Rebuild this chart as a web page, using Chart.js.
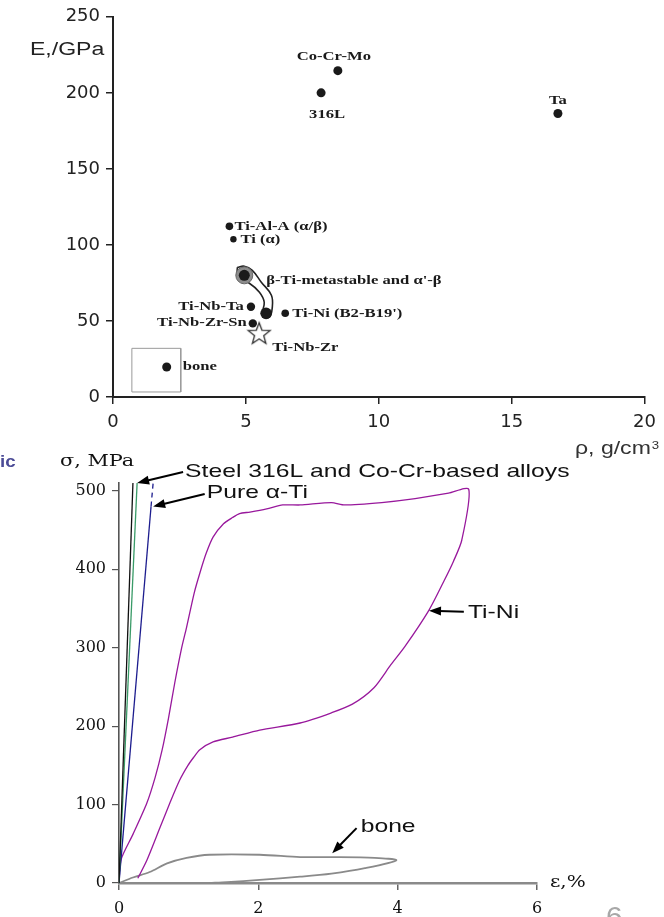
<!DOCTYPE html>
<html>
<head>
<meta charset="utf-8">
<script src="https://cdn.jsdelivr.net/npm/chart.js@4/dist/chart.umd.min.js"></script>
<style>
  html, body { margin: 0; padding: 0; background: #fff; width: 664px; height: 917px; overflow: hidden; }
  #wrap { position: relative; width: 664px; height: 917px; }
  #topChart { position: absolute; left: 0; top: 0; }
  #botChart { position: absolute; left: 0; top: 440px; }
</style>
</head>
<body>
<div id="wrap">
  <canvas id="topChart" width="664" height="462"></canvas>
  <canvas id="botChart" width="664" height="477"></canvas>
</div>
<script>
/* ---------- top chart: Young's modulus vs density ---------- */
var densityTicks = [0, 5, 10, 15, 20];
var modulusTicks = [0, 50, 100, 150, 200, 250];

var alloyNames   = ['Co-Cr-Mo', '316L', 'Ta', 'Ti-Al-A (α/β)', 'Ti (α)', 'β-Ti-metastable and α\'-β',
                    'Ti-Nb-Ta', 'Ti-Nb-Zr-Sn', '', 'Ti-Ni (B2-B19\')', 'bone'];
var alloyDensity = [8.46, 7.83, 16.74, 4.38, 4.53, 4.94, 5.19, 5.26, 5.76, 6.48, 2.02];
var alloyModulus = [214.6, 200, 186.4, 112.2, 103.7, 80, 59.3, 48.4, 55, 55.1, 19.7];

var starNames   = ['Ti-Nb-Zr'];
var starDensity = [5.5];
var starModulus = [42];

// outline around the metastable beta-Ti group
var loopDensity = [4.68, 4.94, 5.24, 5.58, 5.96, 5.99, 5.88, 5.62, 5.69, 5.51, 5.13, 4.83, 4.68, 4.68];
var loopModulus = [85.3, 86, 83.3, 75.5, 66.9, 58.4, 52.5, 53.8, 62.3, 68.9, 74.8, 76.8, 81.4, 85.3];

// box around bone
var boneBoxDensity = [0.71, 2.55, 2.55, 0.71, 0.71];
var boneBoxModulus = [32, 32, 3.3, 3.3, 32];

/* ---------- bottom chart: stress-strain ---------- */
var strainTicks = [0, 2, 4, 6];
var stressTicks = [0, 100, 200, 300, 400, 500];

var steelStrain = [0, 0.2];
var steelStress = [0, 510];
var coCrStrain  = [0, 0.26];
var coCrStress  = [0, 510];
var tiStrain    = [0, 0.46];
var tiStress    = [0, 480];
var tiEndStrain = [0.46, 0.49];
var tiEndStress = [480, 510];

var tiNiStrain = [0, 0.03, 0.2, 0.4, 0.52, 0.62, 0.71, 0.8, 0.9, 0.97, 1.08, 1.16, 1.25, 1.35, 1.5, 1.63, 1.73,
                  1.88, 2.12, 2.35, 2.6, 3.05, 3.24, 3.77, 4.25, 4.73, 5.02,
                  4.92, 4.8, 4.67, 4.45, 4.1, 3.9, 3.66, 3.35, 3.05, 2.6, 2.02, 1.63, 1.35, 1.16, 1.07, 0.99,
                  0.87, 0.73, 0.59, 0.4, 0.27];
var tiNiStress = [0, 30, 62, 102, 135, 170, 210, 255, 300, 326, 370, 395, 420, 441, 458, 466, 471,
                  473, 477, 482, 482, 485, 482, 485, 490, 497, 502,
                  437, 410, 386, 348, 301, 278, 249, 228, 217, 204, 195, 186, 180, 170, 160, 150,
                  131, 102, 71, 29, 6];

var boneStrain = [0, 0.2, 0.44, 0.69, 0.97, 1.3, 2.02, 2.6, 3.05, 3.67, 3.98,
                  3.53, 3.05, 2.6, 2.02, 1.55, 1.3];
var boneStress = [0, 7, 14, 25, 32, 36, 36, 33, 33, 32, 29,
                  19, 12, 8, 4, 1, 0];

/* ---------- helpers ---------- */
function zip(xs, ys) {
  return xs.map(function (x, i) { return { x: x, y: ys[i] }; });
}

// the scan is stretched sideways, so text gets a horizontal scale
function drawText(ctx, text, x, y, opts) {
  ctx.save();
  ctx.font = opts.font;
  ctx.fillStyle = opts.color || '#111';
  ctx.textBaseline = opts.baseline || 'alphabetic';
  ctx.textAlign = 'left';
  var sx = opts.sx || 1;
  var w = ctx.measureText(text).width * sx;
  var left = opts.align === 'right' ? x - w : (opts.align === 'center' ? x - w / 2 : x);
  ctx.translate(left, y);
  ctx.scale(sx, 1);
  ctx.fillText(text, 0, 0);
  ctx.restore();
  return left + w;
}

function drawArrow(ctx, x1, y1, x2, y2) {
  var ang = Math.atan2(y2 - y1, x2 - x1);
  var len = 12, half = 4.5;
  ctx.save();
  ctx.strokeStyle = '#000';
  ctx.fillStyle = '#000';
  ctx.lineWidth = 2;
  ctx.beginPath();
  ctx.moveTo(x1, y1);
  ctx.lineTo(x2 - Math.cos(ang) * len * 0.8, y2 - Math.sin(ang) * len * 0.8);
  ctx.stroke();
  ctx.beginPath();
  ctx.moveTo(x2, y2);
  ctx.lineTo(x2 - Math.cos(ang) * len - Math.sin(ang) * half, y2 - Math.sin(ang) * len + Math.cos(ang) * half);
  ctx.lineTo(x2 - Math.cos(ang) * len + Math.sin(ang) * half, y2 - Math.sin(ang) * len - Math.cos(ang) * half);
  ctx.closePath();
  ctx.fill();
  ctx.restore();
}

function makeStar(size) {
  var c = document.createElement('canvas');
  c.width = size; c.height = size;
  var g = c.getContext('2d');
  var cx = size / 2, cy = size / 2 + 1, R = size / 2 - 1.5, r = R * 0.42;
  g.beginPath();
  for (var i = 0; i < 10; i++) {
    var rad = i % 2 === 0 ? R : r;
    var a = -Math.PI / 2 + i * Math.PI / 5;
    g.lineTo(cx + rad * Math.cos(a), cy + rad * Math.sin(a));
  }
  g.closePath();
  g.fillStyle = '#fff';
  g.fill();
  g.strokeStyle = '#333';
  g.lineWidth = 1.3;
  g.stroke();
  return c;
}

function fixedTicks(list) {
  return function (scale) {
    scale.ticks = list.map(function (v) { return { value: v }; });
  };
}

/* label placement (pixels from point) */
var alloyLabelPos = [
  { dx: -4, dy: -14, align: 'center' },
  { dx: 6,  dy: 22,  align: 'center' },
  { dx: 0,  dy: -13, align: 'center' },
  { dx: 5,  dy: 0,   align: 'left' },
  { dx: 7,  dy: 0,   align: 'left' },
  { dx: 22, dy: 5,   align: 'left' },
  { dx: -7, dy: 0,   align: 'right' },
  { dx: -6, dy: -1,  align: 'right' },
  { dx: 0,  dy: 0,   align: 'left' },
  { dx: 7,  dy: 0,   align: 'left' },
  { dx: 16, dy: 0,   align: 'left' }
];
var alloyRadius = [4.5, 4.5, 4.5, 3.8, 3.2, 5.5, 4.2, 4.2, 5.8, 3.8, 4.5];
var starLabelPos = [{ dx: 13, dy: 15, align: 'left' }];

var LABEL_FONT = 'bold 13px "Liberation Serif"';

var topLabels = {
  id: 'topLabels',
  afterDatasetsDraw: function (chart) {
    var ctx = chart.ctx, xs = chart.scales.x, ys = chart.scales.y;
    alloyNames.forEach(function (name, i) {
      if (!name) return;
      var p = alloyLabelPos[i];
      drawText(ctx, name, xs.getPixelForValue(alloyDensity[i]) + p.dx, ys.getPixelForValue(alloyModulus[i]) + p.dy,
        { font: LABEL_FONT, color: '#1a1a1a', sx: 1.28, align: p.align, baseline: 'middle' });
    });
    starNames.forEach(function (name, i) {
      var p = starLabelPos[i];
      drawText(ctx, name, xs.getPixelForValue(starDensity[i]) + p.dx, ys.getPixelForValue(starModulus[i]) + p.dy,
        { font: LABEL_FONT, color: '#1a1a1a', sx: 1.28, align: p.align, baseline: 'middle' });
    });
    drawText(ctx, 'E,/GPa', 30, 55, { font: '18px "Liberation Sans"', color: '#222', sx: 1.28 });
    var end = drawText(ctx, 'ρ, g/cm', 575, 454, { font: '18px "Liberation Sans"', color: '#333', sx: 1.28 });
    drawText(ctx, '3', end + 1, 449, { font: '11px "Liberation Sans"', color: '#333', sx: 1.2 });
  }
};

new Chart(document.getElementById('topChart'), {
  type: 'scatter',
  data: {
    datasets: [
      {
        data: zip(alloyDensity, alloyModulus),
        pointRadius: alloyRadius,
        pointBackgroundColor: '#1a1a1a',
        pointBorderColor: '#1a1a1a',
        pointBorderWidth: 0,
        order: 1
      },
      {
        data: zip(starDensity, starModulus),
        pointStyle: makeStar(26),
        pointRadius: 13,
        order: 1
      },
      {
        data: [{ x: alloyDensity[5], y: alloyModulus[5] }],
        pointRadius: 8.5,
        pointBackgroundColor: '#8c8c8c',
        pointBorderColor: '#666',
        pointBorderWidth: 1,
        order: 2
      },
      {
        data: zip(loopDensity, loopModulus),
        showLine: true,
        tension: 0.4,
        borderColor: '#222',
        borderWidth: 1.6,
        pointRadius: 0,
        order: 3
      },
      {
        data: zip(boneBoxDensity, boneBoxModulus),
        showLine: true,
        tension: 0,
        borderColor: '#9a9a9a',
        borderWidth: 1,
        pointRadius: 0,
        order: 4
      }
    ]
  },
  options: {
    responsive: false,
    animation: false,
    events: [],
    layout: { padding: { top: 16, right: 17, bottom: 0, left: 0 } },
    plugins: { legend: { display: false }, tooltip: { enabled: false } },
    scales: {
      x: {
        type: 'linear', min: 0, max: 20,
        afterBuildTicks: fixedTicks(densityTicks),
        afterFit: function (s) { s.height = 65; },
        grid: { drawOnChartArea: false, drawTicks: true, tickLength: 7, color: '#222', lineWidth: 1.5 },
        border: { display: true, color: '#222', width: 2 },
        ticks: { font: { family: 'DejaVu Sans', size: 18 }, color: '#222', padding: 8, maxRotation: 0 }
      },
      y: {
        type: 'linear', min: 0, max: 250,
        afterBuildTicks: fixedTicks(modulusTicks),
        afterFit: function (s) { s.width = 113; },
        grid: { drawOnChartArea: false, drawTicks: true, tickLength: 7, color: '#222', lineWidth: 1.5 },
        border: { display: true, color: '#222', width: 2 },
        ticks: { font: { family: 'DejaVu Sans', size: 18 }, color: '#222', padding: 6 }
      }
    }
  },
  plugins: [topLabels]
});

/* ---------- bottom chart ---------- */
var SANS = '19px "Liberation Sans"';
var botNotes = [
  { text: 'Steel 316L and Co-Cr-based alloys', at: [0.92, 518], from: [0.92, 524], to: [0.26, 510] },
  { text: 'Pure α-Ti', at: [1.23, 491], from: [1.23, 496], to: [0.49, 480] },
  { text: 'Ti-Ni', at: [4.98, 338], from: [4.95, 346], to: [4.45, 347] },
  { text: 'bone', at: [3.44, 65], from: [3.41, 70], to: [3.06, 38] }
];

var botLabels = {
  id: 'botLabels',
  afterDatasetsDraw: function (chart) {
    var ctx = chart.ctx, xs = chart.scales.x, ys = chart.scales.y;
    botNotes.forEach(function (n) {
      drawArrow(ctx, xs.getPixelForValue(n.from[0]), ys.getPixelForValue(n.from[1]),
        xs.getPixelForValue(n.to[0]), ys.getPixelForValue(n.to[1]));
      drawText(ctx, n.text, xs.getPixelForValue(n.at[0]) + 2, ys.getPixelForValue(n.at[1]),
        { font: SANS, color: '#111', sx: 1.3 });
    });
    drawText(ctx, 'σ, MPa', 60, 26, { font: '16px "DejaVu Serif"', color: '#111', sx: 1.3 });
    drawText(ctx, 'ε,%', 550, 447, { font: '16px "DejaVu Serif"', color: '#111', sx: 1.25 });
    drawText(ctx, 'ic', 0, 27, { font: 'bold 17px "Liberation Sans"', color: '#4b4b96', sx: 1.1 });
    drawText(ctx, '6', 606, 486, { font: '27px "Liberation Sans"', color: '#a8a8a8', sx: 1.1 });
  }
};

function curve(xs, ys, color, extra) {
  var d = {
    data: zip(xs, ys),
    showLine: true,
    tension: 0,
    borderColor: color,
    borderWidth: 1.3,
    pointRadius: 0
  };
  for (var k in extra || {}) d[k] = extra[k];
  return d;
}

new Chart(document.getElementById('botChart'), {
  type: 'scatter',
  data: {
    datasets: [
      curve(steelStrain, steelStress, '#111'),
      curve(coCrStrain, coCrStress, '#3a9b68'),
      curve(tiStrain, tiStress, '#1c1c8e'),
      curve(tiEndStrain, tiEndStress, '#1c1c8e', { borderDash: [5, 4] }),
      curve(tiNiStrain, tiNiStress, '#98189c', { tension: 0.25 }),
      curve(boneStrain, boneStress, '#8a8a8a', { borderWidth: 1.8, tension: 0.3 })
    ]
  },
  options: {
    responsive: false,
    animation: false,
    events: [],
    layout: { padding: { top: 43, right: 127, bottom: 0, left: 0 } },
    plugins: { legend: { display: false }, tooltip: { enabled: false } },
    scales: {
      x: {
        type: 'linear', min: 0, max: 6,
        afterBuildTicks: fixedTicks(strainTicks),
        afterFit: function (s) { s.height = 34; },
        grid: { drawOnChartArea: false, drawTicks: true, tickLength: 7, color: '#666', lineWidth: 1.5 },
        border: { display: true, color: '#8a8a8a', width: 2.5 },
        ticks: { font: { family: 'DejaVu Serif', size: 16 }, color: '#111', padding: 9, maxRotation: 0 }
      },
      y: {
        type: 'linear', min: 0, max: 510,
        afterBuildTicks: fixedTicks(stressTicks),
        afterFit: function (s) { s.width = 119; },
        grid: { drawOnChartArea: false, drawTicks: true, tickLength: 7, color: '#555', lineWidth: 1.2 },
        border: { display: true, color: '#555', width: 1.6 },
        ticks: { font: { family: 'DejaVu Serif', size: 16 }, color: '#111', padding: 6 }
      }
    }
  },
  plugins: [botLabels]
});
</script>
</body>
</html>
